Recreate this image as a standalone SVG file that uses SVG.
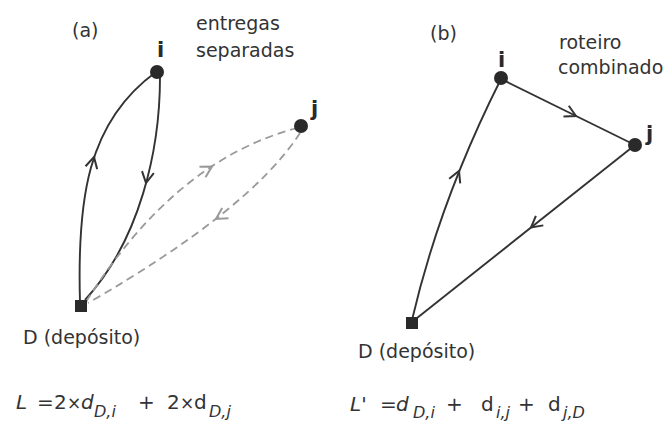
<svg xmlns="http://www.w3.org/2000/svg" width="667" height="430" viewBox="0 0 667 430">
<style>
text{font-family:"DejaVu Sans",sans-serif;fill:#333}
.lbl{font-size:19px}
.nl{font-size:21px;font-weight:bold;fill:#2a2a2a}
.f{font-size:20px}
.x{font-size:17px}
.it{font-style:italic}
.sub{font-size:16px;font-style:italic}
.solid{fill:none;stroke:#333;stroke-width:1.9}
.dash{fill:none;stroke:#9a9a9a;stroke-width:1.8;stroke-dasharray:8 5}
.ah{fill:none;stroke:#333;stroke-width:2}
.ahd{fill:none;stroke:#9a9a9a;stroke-width:2}
.node{fill:#2a2a2a}
</style>
<rect width="667" height="430" fill="#fff"/>
<g id="connectors">
  <!-- panel a -->
  <path class="solid" d="M80,302 C77,200 87,122 156,72"/>
  <path class="ah" d="M-11,-6 L0,0 L-11,6" transform="translate(94,157) rotate(-76)"/>
  <path class="solid" d="M160,77 C160,150 140,240 85,300"/>
  <path class="ah" d="M-11,-6 L0,0 L-11,6" transform="translate(146,183) rotate(100)"/>
  <path class="dash" d="M86,302 Q175,160 297,128"/>
  <path class="ahd" d="M-11,-6 L0,0 L-11,6" transform="translate(212,166.5) rotate(-30)"/>
  <path class="dash" d="M300,133 Q250,210 88,303"/>
  <path class="ahd" d="M-11,-6 L0,0 L-11,6" transform="translate(216,219) rotate(148)"/>
  <!-- panel b -->
  <path class="solid" d="M412,320 Q440,200 501,79"/>
  <path class="ah" d="M-11,-6 L0,0 L-11,6" transform="translate(459,171) rotate(-67)"/>
  <path class="solid" d="M501,79 L635,145"/>
  <path class="ah" d="M-11,-6 L0,0 L-11,6" transform="translate(576,116) rotate(26.2)"/>
  <path class="solid" d="M635,145 L412,322"/>
  <path class="ah" d="M-11,-6 L0,0 L-11,6" transform="translate(531,227.5) rotate(141.6)"/>
</g>
<g id="panel-a">
  <text class="lbl" x="72" y="37">(a)</text>
  <text class="lbl" x="196" y="30">entregas</text>
  <text class="lbl" x="196" y="57">separadas</text>
</g>
<g id="node-a-i">
  <circle class="node" cx="157" cy="72" r="7"/>
  <text class="nl" x="157" y="57">i</text>
</g>
<g id="node-a-j">
  <circle class="node" cx="301" cy="126" r="7"/>
  <text class="nl" x="311" y="116">j</text>
</g>
<g id="node-a-D">
  <rect class="node" x="75" y="300" width="12" height="12"/>
  <text class="lbl" x="23" y="344">D (depósito)</text>
</g>
<g id="formula-a">
  <text class="f" y="409"><tspan x="16" class="it">L</tspan><tspan x="37">=</tspan><tspan x="54">2</tspan><tspan x="67" class="x">×</tspan><tspan x="81" class="it">d</tspan><tspan class="sub" y="417" x="94">D,i</tspan><tspan x="138" y="409">+</tspan><tspan x="167">2</tspan><tspan x="180" class="x">×</tspan><tspan x="194">d</tspan><tspan class="sub" y="417" x="209">D,j</tspan></text>
</g>
<g id="panel-b">
  <text class="lbl" x="430" y="40">(b)</text>
  <text class="lbl" x="559" y="49">roteiro</text>
  <text class="lbl" x="558" y="74">combinado</text>
</g>
<g id="node-b-i">
  <circle class="node" cx="501" cy="78" r="7"/>
  <text class="nl" x="498" y="67">i</text>
</g>
<g id="node-b-j">
  <circle class="node" cx="635" cy="145" r="7"/>
  <text class="nl" x="646" y="141">j</text>
</g>
<g id="node-b-D">
  <rect class="node" x="406" y="317" width="12" height="12"/>
  <text class="lbl" x="358" y="358">D (depósito)</text>
</g>
<g id="formula-b">
  <text class="f" y="411"><tspan x="350" class="it">L'</tspan><tspan x="380">=</tspan><tspan x="396" class="it">d</tspan><tspan class="sub" y="418" x="413">D,i</tspan><tspan x="446" y="411">+</tspan><tspan x="481">d</tspan><tspan class="sub" y="418" x="496">i,j</tspan><tspan x="518" y="411">+</tspan><tspan x="548">d</tspan><tspan class="sub" y="418" x="563">j,D</tspan></text>
</g>
</svg>
